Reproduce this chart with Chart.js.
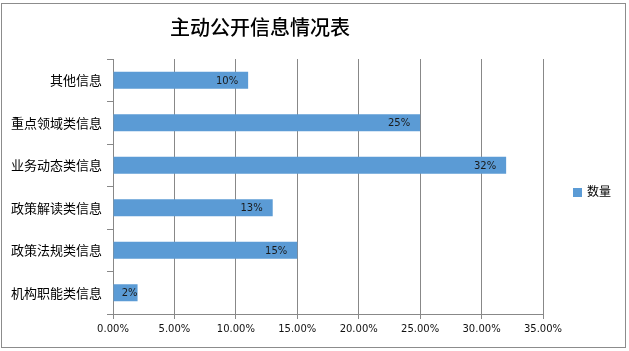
<!DOCTYPE html>
<html>
<head>
<meta charset="utf-8">
<script src="https://cdn.jsdelivr.net/npm/chart.js@4"></script>
<style>
  body { margin: 0; background: #fff; }
  #wrap { position: relative; width: 629px; height: 351px; }
  #frame { position: absolute; left: 1px; top: 3px; width: 625px; height: 345px; box-sizing: border-box; border: 1px solid #8c8c8c; pointer-events: none; }
  #title { position: absolute; left: 0; top: 17px; width: 520px; text-align: center; font: 500 20px/20px "Noto Sans CJK SC", sans-serif; color: #000; }
  #legend { position: absolute; left: 573px; top: 185px; font: 12px/12px "Noto Sans CJK SC", sans-serif; color: #000; }
  #legend i { display: inline-block; width: 9px; height: 9px; background: #5b9bd5; margin-right: 5px; vertical-align: -1px; }
</style>
</head>
<body>
<div id="wrap">
  <canvas id="chart" width="629" height="351"></canvas>
  <div id="title">主动公开信息情况表</div>
  <div id="legend"><i></i>数量</div>
  <div id="frame"></div>
</div>
<script>
const categories = ["其他信息", "重点领域类信息", "业务动态类信息", "政策解读类信息", "政策法规类信息", "机构职能类信息"];
const values = [11, 25, 32, 13, 15, 2];
const valueLabels = ["10%", "25%", "32%", "13%", "15%", "2%"];
const seriesName = "数量";

const gridColor = "#888888";

// labels at the inside end of each bar
const barLabels = {
  id: "barLabels",
  afterDatasetsDraw(chart) {
    const ctx = chart.ctx;
    const bars = chart.getDatasetMeta(0).data;
    ctx.save();
    ctx.font = '10px "DejaVu Sans"';
    ctx.fillStyle = "#1a1a1a";
    ctx.textBaseline = "middle";
    ctx.textAlign = "left";
    bars.forEach((bar, i) => {
      const text = valueLabels[i];
      const w = ctx.measureText(text).width;
      const len = bar.x - bar.base;
      let x = bar.x - 10 - w;
      if (w + 20 > len) x = bar.x - w;
      ctx.fillText(text, x, bar.y + 1);
    });
    ctx.restore();
  }
};

new Chart(document.getElementById("chart"), {
  type: "bar",
  data: {
    labels: categories,
    datasets: [
      {
        label: seriesName,
        data: values,
        backgroundColor: "#5b9bd5",
        borderWidth: 0,
        barPercentage: 0.8,
        categoryPercentage: 0.5
      }
    ]
  },
  options: {
    indexAxis: "y",
    responsive: false,
    animation: false,
    layout: { padding: { top: 59, right: 86, left: 0, bottom: 0 } },
    plugins: {
      legend: { display: false },
      title: { display: false },
      tooltip: { enabled: false }
    },
    scales: {
      x: {
        min: 0,
        max: 35,
        ticks: {
          stepSize: 5,
          padding: 4,
          color: "#111",
          font: { family: "DejaVu Sans", size: 10 },
          callback: (v) => v.toFixed(2) + "%"
        },
        grid: { color: gridColor, tickLength: 5, tickColor: gridColor },
        border: { display: true, color: gridColor },
        afterFit(scale) { scale.height = 37; }
      },
      y: {
        ticks: {
          padding: 5,
          color: "#000",
          font: { family: "Noto Sans CJK SC", size: 13 }
        },
        grid: { drawOnChartArea: false, tickLength: 6, color: gridColor },
        border: { display: true, color: gridColor },
        afterFit(scale) { scale.width = 113; }
      }
    }
  },
  plugins: [barLabels]
});
</script>
</body>
</html>
